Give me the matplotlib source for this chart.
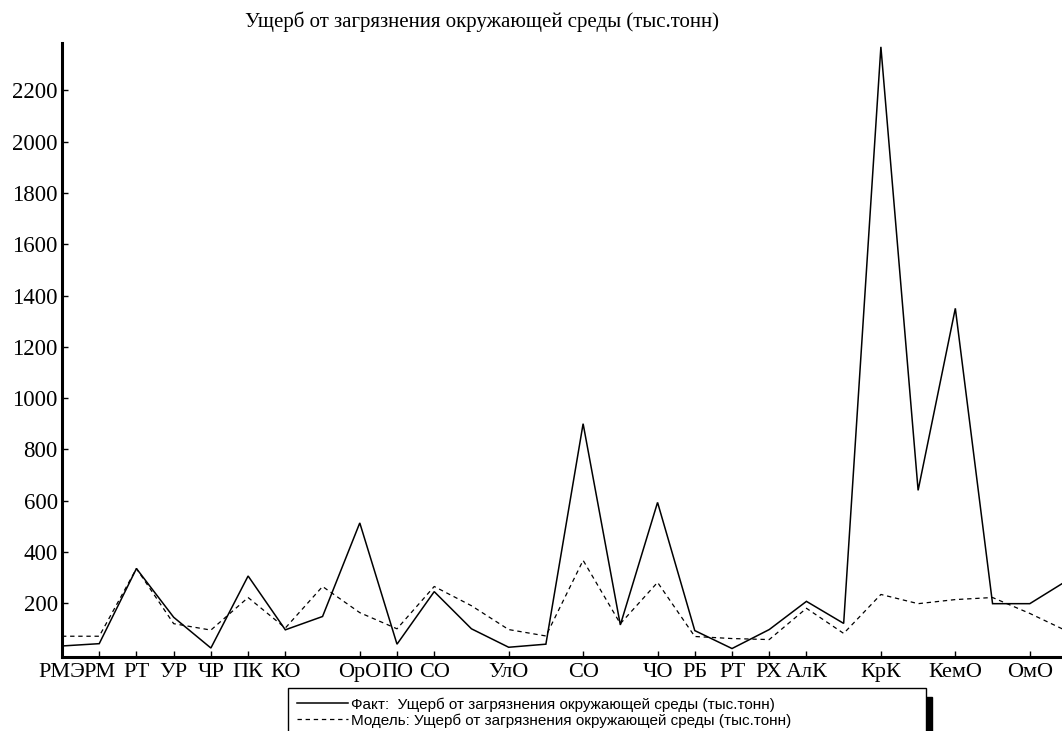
import matplotlib
matplotlib.use("Agg")
import matplotlib.pyplot as plt
from matplotlib.patches import Rectangle

# регионы (коды), подписи показаны не у всех
regions = ["РМЭ", "РМ", "РТ", "УР", "ЧР", "ПК", "КО", "НО", "ОрО", "ПО", "СО", "СаО",
           "УлО", "КО", "СО", "ТО", "ЧО", "РБ", "РТ", "РХ", "АлК", "ЗК", "КрК", "ИО",
           "КемО", "НО", "ОмО", "ТО"]
shown = [0, 1, 2, 3, 4, 5, 6, 8, 9, 10, 12, 14, 16, 17, 18, 19, 20, 22, 24, 26]

fact = [33, 42, 335, 145, 25, 306, 96, 148, 513, 40, 245, 100, 28, 40, 900, 115,
        593, 93, 23, 97, 207, 121, 2370, 640, 1350, 198, 198, 288]
model = [71, 71, 335, 120, 95, 222, 103, 265, 163, 100, 265, 190, 97, 72, 367, 120,
         281, 70, 62, 58, 180, 82, 234, 198, 214, 222, 160, 91]

title = "Ущерб от загрязнения окружающей среды (тыс.тонн)"
fact_label = "Факт:  Ущерб от загрязнения окружающей среды (тыс.тонн)"
model_label = "Модель: Ущерб от загрязнения окружающей среды (тыс.тонн)"
yticks = list(range(200, 2201, 200))

W, H = 1062, 731
fig = plt.figure(figsize=(W / 100, H / 100), dpi=100)
ax = fig.add_axes([62 / W, (H - 657) / H, 1 - 62 / W, (657 - 43) / H])

x = list(range(len(regions)))
l1, = ax.plot(x, fact, color="black", lw=1.1, solid_joinstyle="miter")
l2, = ax.plot(x, model, color="black", lw=0.9, linestyle=(0, (3.5, 3)))

ax.set_xlim(0, (W - 62.6) / 37.2)
ax.set_ylim(-10, 2385)

ax.set_xticks(shown)
ax.set_xticklabels([regions[i] for i in shown], family="Liberation Serif", fontsize=16)
ax.set_yticks(yticks)
ax.set_yticklabels([str(v) for v in yticks], family="Liberation Serif", fontsize=16.5)
ax.tick_params(axis="both", direction="in", length=4, width=1, colors="black")
ax.tick_params(axis="x", pad=4)
ax.tick_params(axis="y", pad=3)

for side in ("top", "right"):
    ax.spines[side].set_visible(False)
for side in ("left", "bottom"):
    ax.spines[side].set_linewidth(2.2)

fig.text(482 / W, 1 - 22 / H, title, ha="center", va="center",
         family="Liberation Serif", fontsize=15)

# легенда в рамке снизу
lx0, lx1, ly0 = 288 / W, 926 / W, 1 - 688 / H
leg = fig.legend([l1, l2], [fact_label, model_label], loc="upper left",
                 bbox_to_anchor=(lx0, ly0 - 0.06, lx1 - lx0, 0.06), mode="expand",
                 prop={"family": "Liberation Sans", "size": 11}, frameon=True,
                 fancybox=False, edgecolor="black", framealpha=1,
                 handlelength=3.3, handletextpad=0.2, borderpad=0.6,
                 labelspacing=0.12, borderaxespad=0)
leg.get_frame().set_linewidth(1.0)
fig.patches.append(Rectangle((926 / W, 0), 6 / W, (H - 697) / H, color="black",
                             transform=fig.transFigure, zorder=5))

fig.savefig("out.png", dpi=100)
